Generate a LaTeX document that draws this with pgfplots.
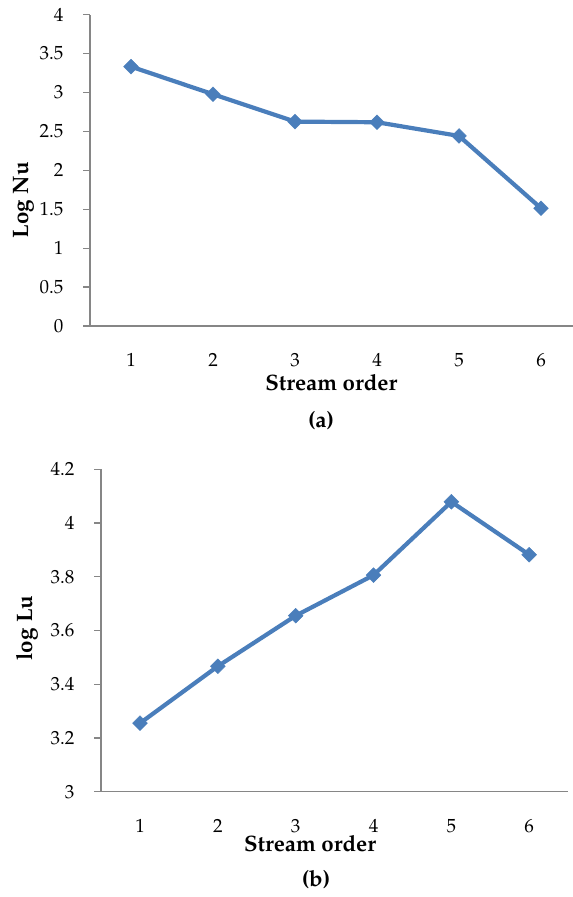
\documentclass[border=0pt]{standalone}
\usepackage[T1]{fontenc}
\usepackage{mathpazo}
\usepackage{pgfplots}
\pgfplotsset{compat=1.18}
\definecolor{lineblue}{RGB}{74,126,187}
\definecolor{axisgray}{RGB}{134,134,134}
\newcommand{\tickfont}{\fontsize{19}{21}\selectfont}
\pgfplotsset{
  common/.style={
    scale only axis,
    axis x line*=bottom, axis y line*=left,
    axis line style={-, draw=axisgray, line width=1.3pt},
    xtick={1,2,3,4,5,6},
    xtick style={draw=none},
    ytick style={draw=axisgray, line width=1.3pt},
    tick align=outside,
    major tick length=7pt,
    xticklabel style={anchor=north, inner sep=0pt, yshift=-20.5pt, font=\tickfont},
    yticklabel style={anchor=east, inner sep=0pt, xshift=-19.5pt, font=\tickfont},
    /pgf/number format/fixed,
    clip=false,
  },
  series/.style={
    color=lineblue, line width=4.2pt,
    mark=square*, mark size=5.2pt,
    mark options={rotate=45, line width=0.5pt, fill=lineblue, draw=lineblue},
  },
}
\begin{document}
\begin{tikzpicture}
\useasboundingbox (0,0) rectangle (573pt,897pt);
% (a)
\begin{axis}[common,
  at={(90pt,571pt)}, anchor=south west,
  width=483pt, height=311.3pt,
  xmin=0.5, xmax=6.39, ymin=0, ymax=4,
  ytick={0,0.5,1,1.5,2,2.5,3,3.5,4},
  yticklabels={\tickfont 0,\tickfont 0.5,\tickfont 1,\tickfont 1.5,\tickfont 2,\tickfont 2.5,\tickfont 3,\tickfont 3.5,\tickfont 4},
  xticklabels={\tickfont 1,\tickfont 2,\tickfont 3,\tickfont 4,\tickfont 5,\tickfont 6},
]
\addplot[series] coordinates {
(1,3.333) (2,2.978) (3,2.626) (4,2.618) (5,2.442) (6,1.513)
};
\end{axis}
% (b)
\begin{axis}[common,
  at={(101.1pt,105.3pt)}, anchor=south west,
  width=467pt, height=322.4pt,
  xmin=0.5, xmax=6.5, ymin=3, ymax=4.2,
  ytick={3,3.2,3.4,3.6,3.8,4,4.2},
  yticklabels={\tickfont 3,\tickfont 3.2,\tickfont 3.4,\tickfont 3.6,\tickfont 3.8,\tickfont 4,\tickfont 4.2},
  xticklabels={\tickfont 1,\tickfont 2,\tickfont 3,\tickfont 4,\tickfont 5,\tickfont 6},
]
\addplot[series] coordinates {
(1,3.255) (2,3.467) (3,3.655) (4,3.806) (5,4.079) (6,3.882)
};
\end{axis}
\begin{scope}[every node/.style={font=\fontsize{22.3}{24}\selectfont\bfseries, inner sep=0pt}]
\node[anchor=base] at (331.3pt,506.3pt) {Stream order};
\node[anchor=base] at (321pt,469pt) {(a)};
\node[anchor=base] at (310pt,45.3pt) {Stream order};
\node[anchor=base] at (316pt,10.3pt) {(b)};
\node[rotate=90, anchor=base] at (28pt,697pt) {Log Nu};
\node[rotate=90, anchor=base] at (32pt,269pt) {log Lu};
\end{scope}
\end{tikzpicture}
\end{document}
